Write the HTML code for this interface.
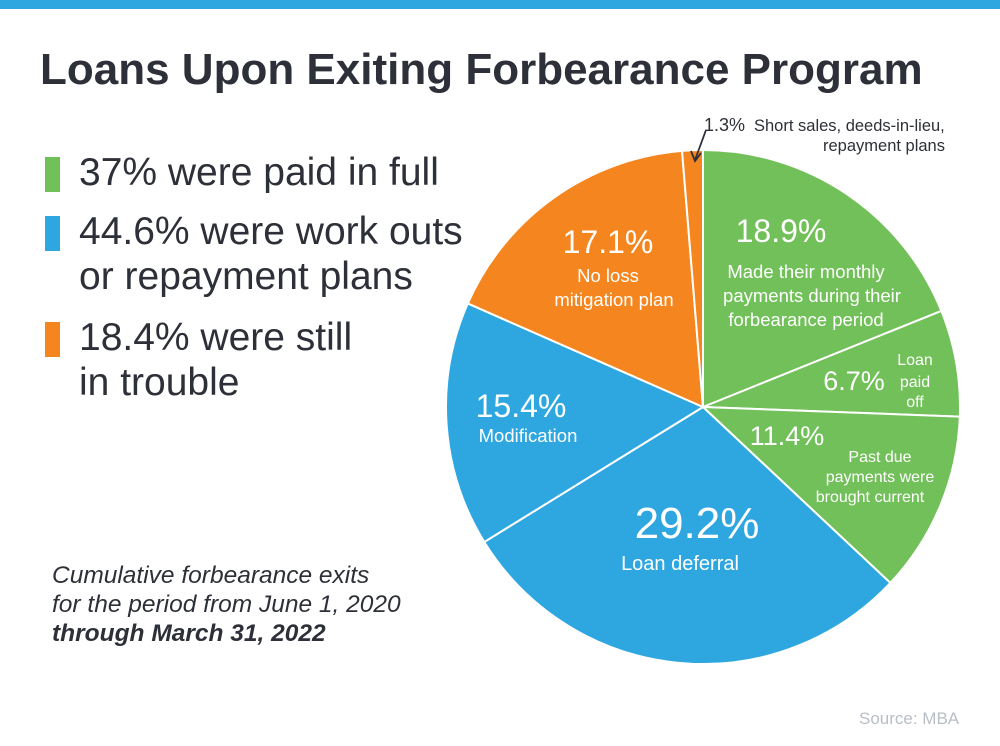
<!DOCTYPE html>
<html><head><meta charset="utf-8"><style>
body{margin:0;width:1000px;height:746px;background:#fff;overflow:hidden;font-family:"Liberation Sans",sans-serif;color:#2d3038;position:relative}
.t{position:absolute;white-space:nowrap}
.mk{position:absolute;left:45px;width:15px;height:35px}
</style></head><body>
<div style="position:absolute;left:0;top:0;width:1000px;height:9px;background:#2ea7e0"></div>
<div class="t" style="left:40px;top:45px;font-size:44px;font-weight:bold">Loans Upon Exiting Forbearance Program</div>
<div class="mk" style="top:157px;background:#72c05a"></div>
<div class="t" style="left:79px;top:151px;font-size:39px">37% were paid in full</div>
<div class="mk" style="top:216px;background:#2ea7e0"></div>
<div class="t" style="left:79px;top:209px;font-size:39px;line-height:45px">44.6% were work outs<br>or repayment plans</div>
<div class="mk" style="top:322px;background:#f5861f"></div>
<div class="t" style="left:79px;top:315px;font-size:39px;line-height:45px">18.4% were still<br>in trouble</div>
<div class="t" style="left:52px;top:561px;font-size:24.5px;font-style:italic;line-height:29px">Cumulative forbearance exits<br>for the period from June 1, 2020<br><b>through March 31, 2022</b></div>
<div class="t" style="left:859px;top:709px;font-size:17px;color:#b8bec6">Source: MBA</div>
<svg id="pie" width="1000" height="746" style="position:absolute;left:0;top:0"></svg>
<script>
const labels=["Made their monthly payments","Loan paid off","Past due brought current","Loan deferral","Modification","No loss mitigation plan","Short sales, deeds-in-lieu"];
const values=[18.9,6.7,11.4,29.2,15.4,17.1,1.3];
const colors=["#72c05a","#72c05a","#72c05a","#2ea7e0","#2ea7e0","#f5861f","#f5861f"];
const svg=document.getElementById('pie');const NS="http://www.w3.org/2000/svg";
const cx=703,cy=407,r=257;const total=values.reduce((a,b)=>a+b,0);
function pt(f,rr){const a=f*2*Math.PI;return [cx+rr*Math.sin(a),cy-rr*Math.cos(a)];}
let acc=0;
values.forEach((v,i)=>{const f0=acc/total,f1=(acc+v)/total;acc+=v;
const p0=pt(f0,r),p1=pt(f1,r);const large=(f1-f0)>0.5?1:0;
const p=document.createElementNS(NS,'path');
p.setAttribute('d',`M${cx},${cy}L${p0[0]},${p0[1]}A${r},${r} 0 ${large} 1 ${p1[0]},${p1[1]}Z`);
p.setAttribute('fill',colors[i]);p.setAttribute('stroke','#fff');p.setAttribute('stroke-width','2');


svg.appendChild(p);});
const txt=[
[781,242,32,"18.9%"],[806,278,18.5,"Made their monthly"],[812,302,18.5,"payments during their"],[806,326,18.5,"forbearance period"],
[854,390,27,"6.7%"],[915,365,16,"Loan"],[915,387,16,"paid"],[915,407,16,"off"],
[787,445,27,"11.4%"],[880,462,16,"Past due"],[880,482,16,"payments were"],[870,502,16,"brought current"],
[697,538,44,"29.2%"],[680,570,20,"Loan deferral"],
[521,417,32,"15.4%"],[528,442,18.5,"Modification"],
[608,253,32,"17.1%"],[608,282,18.5,"No loss"],[614,306,18.5,"mitigation  plan"]];
txt.forEach((t,i)=>{const e=document.createElementNS(NS,'text');e.setAttribute('x',t[0]);e.setAttribute('y',t[1]);
e.setAttribute('font-size',t[2]);e.setAttribute('fill','#fff');e.setAttribute('text-anchor','middle');e.setAttribute('font-family','Liberation Sans, sans-serif');
e.textContent=t[3];


svg.appendChild(e);});
const a=document.createElementNS(NS,'path');a.setAttribute('d','M706,130L695,160M691,151L695,161L701,153');a.setAttribute('stroke','#2d3038');a.setAttribute('stroke-width','1.8');a.setAttribute('fill','none');


svg.appendChild(a);
[[704,131,"start",18,"1.3%"],[754,131,"start",16.5,"Short sales, deeds-in-lieu,"],[945,151,"end",16.5,"repayment plans"]].forEach(t=>{const e=document.createElementNS(NS,'text');e.setAttribute('x',t[0]);e.setAttribute('y',t[1]);e.setAttribute('text-anchor',t[2]);e.setAttribute('font-size',t[3]);e.setAttribute('fill','#2d3038');e.setAttribute('font-family','Liberation Sans, sans-serif');e.textContent=t[4];


svg.appendChild(e);});
</script>
</body></html>
